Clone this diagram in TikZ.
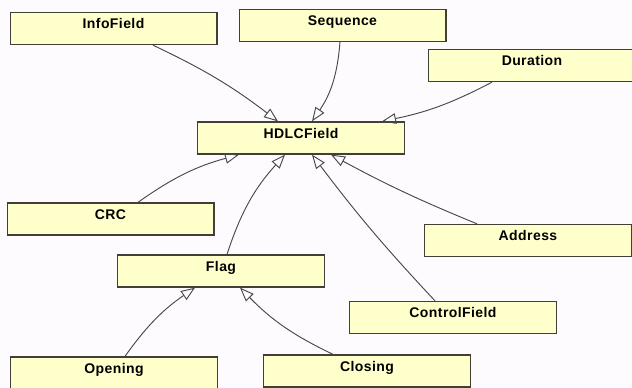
\documentclass[tikz,border=0pt]{standalone}
\usepackage{fontspec}
\newfontfamily\fieldfont{Liberation Sans}[LetterSpace=3]
\usepackage{tikz}
\usetikzlibrary{arrows.meta}
\usepackage{xcolor}
\definecolor{fieldfill}{RGB}{255,255,204}
\definecolor{fieldline}{RGB}{64,64,56}
\definecolor{edgeline}{RGB}{72,72,72}
\definecolor{bgtint}{RGB}{253,251,253}

\begin{document}
\begin{tikzpicture}[x=0.75pt, y=-0.75pt,
  field/.style={draw=fieldline, line width=1pt, fill=fieldfill, minimum width=155pt, minimum height=24pt,
    inner ysep=4.25pt, text height=8pt, text depth=7.5pt, font=\fieldfont\bfseries\fontsize{10.5}{12}\selectfont},
  isa/.style={draw=edgeline, line width=0.7pt, -{Triangle[open, length=10.5pt, width=8pt]}}]
% HDLC字段类图
\fill[bgtint] (0,0) rectangle (632,387);
\useasboundingbox (0,0) rectangle (632,387);
\node[field] (hdlc) at (301,138) {HDLCField};
\node[field] (info) at (113.5,28.5) {InfoField};
\node[field] (seq) at (342.5,25.5) {Sequence};
\node[field] (dur) at (532,65.5) {Duration};
\node[field] (crc) at (110.5,219) {CRC};
\node[field] (addr) at (528,240.5) {Address};
\node[field] (flag) at (221,271) {Flag};
\node[field] (ctrl) at (453,317.5) {ControlField};
\node[field] (open) at (114,373) {Opening};
\node[field] (close) at (367,371) {Closing};
\draw[isa] ([xshift=29.6pt]info.south) to[bend left=6] ([xshift=-17.25pt]hdlc.north);
\draw[isa] ([xshift=-1.9pt]seq.south) to[bend left=15] ([xshift=8.25pt]hdlc.north);
\draw[isa] ([xshift=-30pt]dur.south) to[bend left=8] ([xshift=60.75pt]hdlc.north);
\draw[isa] ([xshift=20.6pt]crc.north) to[bend left=10] ([xshift=-46.5pt]hdlc.south);
\draw[isa] ([xshift=4.5pt]flag.north) to[bend left=12] ([xshift=-12pt]hdlc.south);
\draw[isa] ([xshift=-13.5pt]ctrl.north) to[bend left=3] ([xshift=8.25pt]hdlc.south);
\draw[isa] ([xshift=-38.25pt]addr.north) to[bend left=3] ([xshift=22.5pt]hdlc.south);
\draw[isa] ([xshift=8.25pt]open.north) to[bend left=10] ([xshift=-19.5pt]flag.south);
\draw[isa] ([xshift=-25.5pt]close.north) to[bend left=10] ([xshift=14.25pt]flag.south);
\end{tikzpicture}
\end{document}
